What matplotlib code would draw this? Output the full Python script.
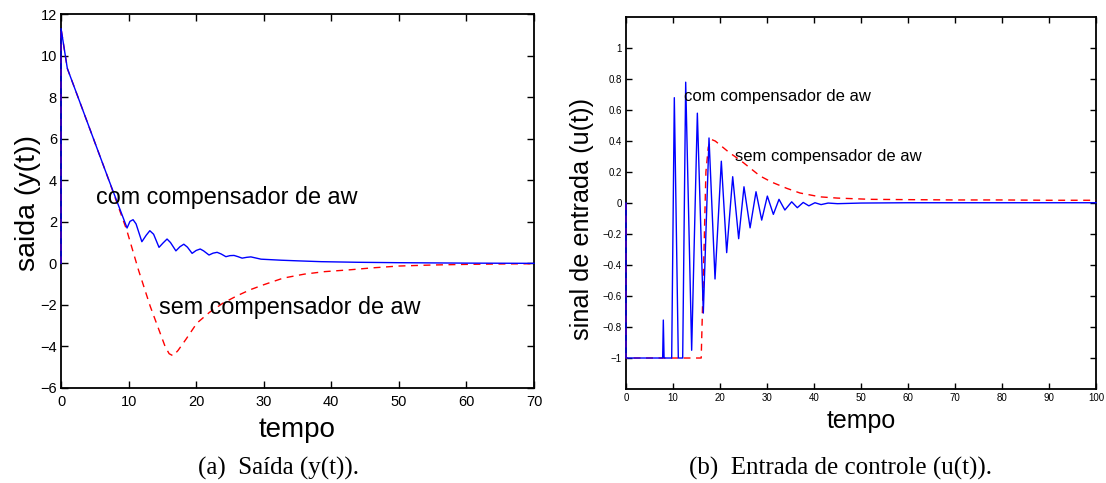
import matplotlib.pyplot as plt
from matplotlib.ticker import FuncFormatter

plt.rcParams['font.family'] = ['Liberation Sans', 'DejaVu Sans']

# ---- (a) output y(t) ----
t_com_y = [0, 0, 0.93, 3, 5, 7, 9.77, 10.2, 10.66, 11.1, 11.96, 12.6, 13.14, 13.7, 14.5, 15.1,
           15.69, 16.2, 17.0, 17.6, 18.17, 18.7, 19.4, 20.0, 20.6, 21.1, 21.9, 22.5, 23.1, 23.7,
           24.4, 25.0, 25.6, 26.2, 26.8, 27.5, 28.1, 29.6, 32.6, 35, 38.5, 44, 50.3, 60, 70]
y_com = [0, 11.3, 9.38, 7.57, 5.82, 4.07, 1.70, 2.02, 2.1, 1.9, 1.04, 1.35, 1.57, 1.4, 0.77, 0.98,
         1.17, 1.0, 0.6, 0.8, 0.92, 0.78, 0.48, 0.62, 0.69, 0.6, 0.4, 0.49, 0.53, 0.45,
         0.32, 0.37, 0.38, 0.32, 0.25, 0.29, 0.31, 0.2, 0.15, 0.12, 0.08, 0.05, 0.03, 0.01, 0.0]

t_sem_y = [0, 0, 0.93, 3, 5, 7, 9.72, 11.45, 13.2, 15.4, 16.0, 16.58, 17.3, 18.5, 20.1, 22, 24,
           26, 28, 30, 32.9, 36, 39, 42.8, 46, 50, 55, 60, 65, 70]
y_sem = [0, 11.3, 9.38, 7.57, 5.82, 4.07, 1.6, -0.31, -2.07, -4.0, -4.35, -4.45, -4.2, -3.65,
         -2.88, -2.35, -1.91, -1.57, -1.27, -1.03, -0.71, -0.52, -0.4, -0.31, -0.22, -0.13,
         -0.08, -0.05, -0.03, -0.02]

# ---- (b) control input u(t) ----
t_com_u = [0, 0, 7.8, 7.94, 8.1, 9.72, 10.28, 11.13, 12.06, 12.7, 13.97, 15.18, 16.45, 17.66,
           18.94, 20.28, 21.42, 22.7, 23.97, 25.1, 26.4, 27.66, 28.87, 30.07, 31.35, 32.55,
           33.8, 35.25, 36.45, 37.7, 38.9, 40.2, 41.5, 43, 45, 50, 60, 100]
u_com = [0, -1, -1, -0.755, -1, -1, 0.68, -1, -1, 0.78, -0.95, 0.58, -0.71, 0.42,
         -0.49, 0.27, -0.32, 0.17, -0.23, 0.105, -0.16, 0.073, -0.11, 0.045, -0.073, 0.024,
         -0.045, 0.008, -0.03, 0.004, -0.018, 0.002, -0.01, 0.0, -0.004, 0.0, 0.002, 0.002]

t_sem_u = [0, 0, 16.0, 16.6, 17.0, 17.5, 18.2, 19, 20, 21, 22, 23.2, 25, 28.5, 31, 34.2, 37,
           41.3, 45, 52, 60, 70, 80, 90, 100]
u_sem = [0, -1, -1, -0.3, 0.2, 0.36, 0.41, 0.40, 0.375, 0.35, 0.325, 0.30, 0.26, 0.175, 0.135,
         0.095, 0.065, 0.04, 0.032, 0.024, 0.022, 0.02, 0.02, 0.018, 0.018]

y_ticks_a = list(range(-6, 13, 2))
x_ticks_a = list(range(0, 71, 10))
y_ticks_b = [-1, -0.8, -0.6, -0.4, -0.2, 0, 0.2, 0.4, 0.6, 0.8, 1]
x_ticks_b = list(range(0, 101, 10))


def fmt(v, pos):
    return ('%g' % round(v, 2)).replace('-', '\u2212')


fig = plt.figure(figsize=(11.06, 4.83), dpi=100)

# left panel
ax1 = fig.add_axes([0.0552, 0.1967, 0.4276, 0.7743])
ax1.plot(t_sem_y, y_sem, color='#ff0000', linestyle='--', linewidth=1.0, dashes=(5, 4),
         zorder=3, clip_on=False)
ax1.plot(t_com_y, y_com, color='#0000ff', linewidth=1.0, zorder=3, clip_on=False)
ax1.set_xlim(0, 70)
ax1.set_ylim(-6, 12)
ax1.set_xticks(x_ticks_a)
ax1.set_yticks(y_ticks_a)
ax1.yaxis.set_major_formatter(FuncFormatter(fmt))
ax1.tick_params(direction='in', length=5, width=1, top=True, right=True, labelsize=10.5)
ax1.tick_params(axis='x', pad=5)
ax1.tick_params(axis='y', pad=3)
ax1.set_xlabel('tempo', fontsize=20, va='center')
ax1.xaxis.set_label_coords(0.5, -0.112)
ax1.set_ylabel('saida (y(t))', fontsize=20.5, va='center')
ax1.yaxis.set_label_coords(-0.070, 0.495)
ax1.text(5.2, 2.86, 'com compensador de aw', fontsize=16.8, ha='left', va='baseline')
ax1.text(14.5, -2.42, 'sem compensador de aw', fontsize=16.8, ha='left', va='baseline')

# right panel
ax2 = fig.add_axes([0.566, 0.1946, 0.425, 0.770])
ax2.plot(t_sem_u, u_sem, color='#ff0000', linestyle='--', linewidth=1.0, dashes=(5, 4),
         zorder=3, clip_on=False)
ax2.plot(t_com_u, u_com, color='#0000ff', linewidth=1.0, zorder=3, clip_on=False)
ax2.set_xlim(0, 100)
ax2.set_ylim(-1.2, 1.2)
ax2.set_xticks(x_ticks_b)
ax2.set_yticks(y_ticks_b)
ax2.yaxis.set_major_formatter(FuncFormatter(fmt))
ax2.tick_params(direction='in', length=4, width=1, top=True, right=True, labelsize=7, pad=3)
ax2.set_xlabel('tempo', fontsize=18, va='center')
ax2.xaxis.set_label_coords(0.5, -0.087)
ax2.set_ylabel('sinal de entrada (u(t))', fontsize=18.2, va='center')
ax2.yaxis.set_label_coords(-0.094, 0.457)
ax2.text(12.4, 0.66, 'com compensador de aw', fontsize=12, ha='left', va='baseline')
ax2.text(23.2, 0.273, 'sem compensador de aw', fontsize=12, ha='left', va='baseline')

for ax in (ax1, ax2):
    for s in ax.spines.values():
        s.set_linewidth(1.3)

fig.text(0.252, 0.018, '(a)  Saída (y(t)).', fontsize=18, family='Liberation Serif',
         ha='center', va='baseline')
fig.text(0.76, 0.018, '(b)  Entrada de controle (u(t)).', fontsize=18,
         family='Liberation Serif', ha='center', va='baseline')

fig.savefig('out.png', dpi=100)
